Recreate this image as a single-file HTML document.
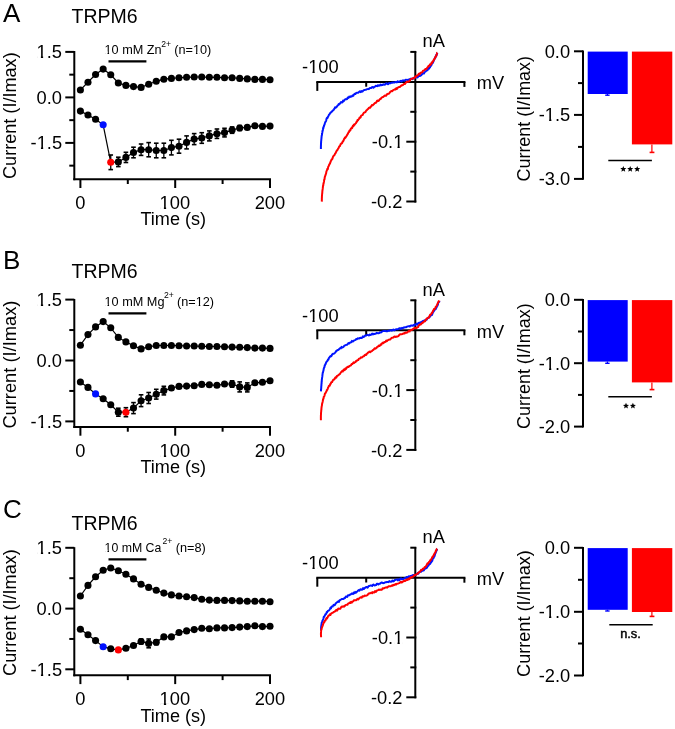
<!DOCTYPE html><html><head><meta charset="utf-8"><style>html,body{margin:0;padding:0;background:#fff;width:675px;height:729px;overflow:hidden}</style></head><body><svg width="675" height="729" viewBox="0 0 675 729" style="position:absolute;left:0;top:0;will-change:transform;font-family:'Liberation Sans', sans-serif">
<rect width="675" height="729" fill="#fff"/>
<text x="3.1" y="21.8" font-size="26" fill="#000">A</text>
<text x="71.51" y="23.4" font-size="19.5" fill="#000">TRPM6</text>
<line x1="74.3" y1="51" x2="74.3" y2="180.2" stroke="#000" stroke-width="2"/>
<line x1="73.3" y1="179.2" x2="271" y2="179.2" stroke="#000" stroke-width="2"/>
<line x1="65.3" y1="51.9" x2="74.3" y2="51.9" stroke="#000" stroke-width="2"/>
<line x1="69.3" y1="74.65" x2="74.3" y2="74.65" stroke="#000" stroke-width="2"/>
<line x1="65.3" y1="97.4" x2="74.3" y2="97.4" stroke="#000" stroke-width="2"/>
<line x1="69.3" y1="120.15" x2="74.3" y2="120.15" stroke="#000" stroke-width="2"/>
<line x1="65.3" y1="142.9" x2="74.3" y2="142.9" stroke="#000" stroke-width="2"/>
<line x1="69.3" y1="165.65" x2="74.3" y2="165.65" stroke="#000" stroke-width="2"/>
<text x="36.59" y="58.12" font-size="18.3" fill="#000">1.5</text>
<rect x="37.49" y="55.82" width="3.4" height="3.1" fill="#fff"/>
<rect x="43.12" y="55.82" width="3.22" height="3.1" fill="#fff"/>
<text x="36.5" y="103.71" font-size="18.3" fill="#000">0.0</text>
<text x="30.56" y="149.12" font-size="18.3" fill="#000">-1.5</text>
<rect x="37.54" y="146.82" width="3.4" height="3.1" fill="#fff"/>
<rect x="43.17" y="146.82" width="3.22" height="3.1" fill="#fff"/>
<line x1="80.4" y1="179.2" x2="80.4" y2="188" stroke="#000" stroke-width="2"/>
<line x1="127.8" y1="179.2" x2="127.8" y2="184" stroke="#000" stroke-width="2"/>
<line x1="175.2" y1="179.2" x2="175.2" y2="188" stroke="#000" stroke-width="2"/>
<line x1="222.6" y1="179.2" x2="222.6" y2="184" stroke="#000" stroke-width="2"/>
<line x1="270" y1="179.2" x2="270" y2="188" stroke="#000" stroke-width="2"/>
<text x="75.28" y="209.3" font-size="18.3" fill="#000">0</text>
<text x="159.6" y="209.3" font-size="18.3" fill="#000">100</text>
<rect x="160.49" y="207" width="3.4" height="3.1" fill="#fff"/>
<rect x="166.12" y="207" width="3.22" height="3.1" fill="#fff"/>
<text x="254.63" y="209.3" font-size="18.3" fill="#000">200</text>
<text transform="translate(140.44,225.2) scale(0.99,1)" font-size="18.3" fill="#000">Time (s)</text>
<text transform="translate(16.37,179) rotate(-90) scale(0.99,1)" font-size="18.3">Current (I/Imax)</text>
<line x1="108.5" y1="61.4" x2="146.4" y2="61.4" stroke="#000" stroke-width="2.3"/>
<text x="104.55" y="53.7" font-size="12.7" fill="#000">10 mM Zn</text>
<rect x="105.17" y="51.4" width="2.36" height="3.1" fill="#fff"/>
<rect x="109.07" y="51.4" width="2.23" height="3.1" fill="#fff"/>
<text x="161.27" y="47.3" font-size="8.6" fill="#000">2+</text>
<text x="174.24" y="54.1" font-size="12.7" fill="#000">(n=10)</text>
<rect x="193.57" y="51.8" width="2.36" height="3.1" fill="#fff"/>
<rect x="197.47" y="51.8" width="2.23" height="3.1" fill="#fff"/>
<polyline points="80.4,90 87.98,82.2 95.57,74.5 103.16,69.1 110.74,74.8 118.33,83 125.91,85.4 133.5,86.6 141.08,87.4 148.67,84.3 156.25,81.3 163.84,79.2 171.42,78.4 179,77.75 186.59,77.3 194.18,77 201.76,77 209.34,77.3 216.93,77.3 224.52,77.75 232.1,77.75 239.69,78.4 247.27,78.9 254.86,79.4 262.44,79.4 270.02,79.7" fill="none" stroke="#000" stroke-width="1.2"/>
<polyline points="80.4,111.1 87.98,115 95.57,119.2 103.16,124.8 110.74,162.3 118.33,161.9 125.91,157.4 133.5,152.5 141.08,149.7 148.67,149.7 156.25,150.5 163.84,150.5 171.42,147.6 179,146.2 186.59,142.4 194.18,139.1 201.76,138 209.34,135.9 216.93,133.7 224.52,132.6 232.1,130.1 239.69,128 247.27,127.4 254.86,125.7 262.44,126.4 270.02,126.1" fill="none" stroke="#000" stroke-width="1.2"/>
<line x1="110.74" y1="155" x2="110.74" y2="169.6" stroke="#000" stroke-width="1.3"/>
<line x1="108.44" y1="155" x2="113.04" y2="155" stroke="#000" stroke-width="1.6"/>
<line x1="108.44" y1="169.6" x2="113.04" y2="169.6" stroke="#000" stroke-width="1.6"/>
<line x1="118.33" y1="157.2" x2="118.33" y2="166.6" stroke="#000" stroke-width="1.3"/>
<line x1="116.03" y1="157.2" x2="120.62" y2="157.2" stroke="#000" stroke-width="1.6"/>
<line x1="116.03" y1="166.6" x2="120.62" y2="166.6" stroke="#000" stroke-width="1.6"/>
<line x1="125.91" y1="152.3" x2="125.91" y2="162.5" stroke="#000" stroke-width="1.3"/>
<line x1="123.61" y1="152.3" x2="128.21" y2="152.3" stroke="#000" stroke-width="1.6"/>
<line x1="123.61" y1="162.5" x2="128.21" y2="162.5" stroke="#000" stroke-width="1.6"/>
<line x1="133.5" y1="147.2" x2="133.5" y2="157.8" stroke="#000" stroke-width="1.3"/>
<line x1="131.19" y1="147.2" x2="135.8" y2="147.2" stroke="#000" stroke-width="1.6"/>
<line x1="131.19" y1="157.8" x2="135.8" y2="157.8" stroke="#000" stroke-width="1.6"/>
<line x1="141.08" y1="144" x2="141.08" y2="155.4" stroke="#000" stroke-width="1.3"/>
<line x1="138.78" y1="144" x2="143.38" y2="144" stroke="#000" stroke-width="1.6"/>
<line x1="138.78" y1="155.4" x2="143.38" y2="155.4" stroke="#000" stroke-width="1.6"/>
<line x1="148.67" y1="142.6" x2="148.67" y2="156.8" stroke="#000" stroke-width="1.3"/>
<line x1="146.37" y1="142.6" x2="150.97" y2="142.6" stroke="#000" stroke-width="1.6"/>
<line x1="146.37" y1="156.8" x2="150.97" y2="156.8" stroke="#000" stroke-width="1.6"/>
<line x1="156.25" y1="143.2" x2="156.25" y2="157.8" stroke="#000" stroke-width="1.3"/>
<line x1="153.95" y1="143.2" x2="158.55" y2="143.2" stroke="#000" stroke-width="1.6"/>
<line x1="153.95" y1="157.8" x2="158.55" y2="157.8" stroke="#000" stroke-width="1.6"/>
<line x1="163.84" y1="143.2" x2="163.84" y2="157.8" stroke="#000" stroke-width="1.3"/>
<line x1="161.53" y1="143.2" x2="166.14" y2="143.2" stroke="#000" stroke-width="1.6"/>
<line x1="161.53" y1="157.8" x2="166.14" y2="157.8" stroke="#000" stroke-width="1.6"/>
<line x1="171.42" y1="140.3" x2="171.42" y2="154.9" stroke="#000" stroke-width="1.3"/>
<line x1="169.12" y1="140.3" x2="173.72" y2="140.3" stroke="#000" stroke-width="1.6"/>
<line x1="169.12" y1="154.9" x2="173.72" y2="154.9" stroke="#000" stroke-width="1.6"/>
<line x1="179" y1="139.2" x2="179" y2="153.2" stroke="#000" stroke-width="1.3"/>
<line x1="176.7" y1="139.2" x2="181.31" y2="139.2" stroke="#000" stroke-width="1.6"/>
<line x1="176.7" y1="153.2" x2="181.31" y2="153.2" stroke="#000" stroke-width="1.6"/>
<line x1="186.59" y1="135.9" x2="186.59" y2="148.9" stroke="#000" stroke-width="1.3"/>
<line x1="184.29" y1="135.9" x2="188.89" y2="135.9" stroke="#000" stroke-width="1.6"/>
<line x1="184.29" y1="148.9" x2="188.89" y2="148.9" stroke="#000" stroke-width="1.6"/>
<line x1="194.18" y1="133.6" x2="194.18" y2="144.6" stroke="#000" stroke-width="1.3"/>
<line x1="191.88" y1="133.6" x2="196.48" y2="133.6" stroke="#000" stroke-width="1.6"/>
<line x1="191.88" y1="144.6" x2="196.48" y2="144.6" stroke="#000" stroke-width="1.6"/>
<line x1="201.76" y1="132.7" x2="201.76" y2="143.3" stroke="#000" stroke-width="1.3"/>
<line x1="199.46" y1="132.7" x2="204.06" y2="132.7" stroke="#000" stroke-width="1.6"/>
<line x1="199.46" y1="143.3" x2="204.06" y2="143.3" stroke="#000" stroke-width="1.6"/>
<line x1="209.34" y1="130.9" x2="209.34" y2="140.9" stroke="#000" stroke-width="1.3"/>
<line x1="207.04" y1="130.9" x2="211.65" y2="130.9" stroke="#000" stroke-width="1.6"/>
<line x1="207.04" y1="140.9" x2="211.65" y2="140.9" stroke="#000" stroke-width="1.6"/>
<line x1="216.93" y1="129" x2="216.93" y2="138.4" stroke="#000" stroke-width="1.3"/>
<line x1="214.63" y1="129" x2="219.23" y2="129" stroke="#000" stroke-width="1.6"/>
<line x1="214.63" y1="138.4" x2="219.23" y2="138.4" stroke="#000" stroke-width="1.6"/>
<line x1="224.52" y1="128.3" x2="224.52" y2="136.9" stroke="#000" stroke-width="1.3"/>
<line x1="222.22" y1="128.3" x2="226.82" y2="128.3" stroke="#000" stroke-width="1.6"/>
<line x1="222.22" y1="136.9" x2="226.82" y2="136.9" stroke="#000" stroke-width="1.6"/>
<line x1="232.1" y1="126.9" x2="232.1" y2="133.3" stroke="#000" stroke-width="1.3"/>
<line x1="229.8" y1="126.9" x2="234.4" y2="126.9" stroke="#000" stroke-width="1.6"/>
<line x1="229.8" y1="133.3" x2="234.4" y2="133.3" stroke="#000" stroke-width="1.6"/>
<line x1="239.69" y1="125.5" x2="239.69" y2="130.5" stroke="#000" stroke-width="1.3"/>
<line x1="237.38" y1="125.5" x2="241.99" y2="125.5" stroke="#000" stroke-width="1.6"/>
<line x1="237.38" y1="130.5" x2="241.99" y2="130.5" stroke="#000" stroke-width="1.6"/>
<circle cx="80.4" cy="90" r="3.55"/>
<circle cx="87.98" cy="82.2" r="3.55"/>
<circle cx="95.57" cy="74.5" r="3.55"/>
<circle cx="103.16" cy="69.1" r="3.55"/>
<circle cx="110.74" cy="74.8" r="3.55"/>
<circle cx="118.33" cy="83" r="3.55"/>
<circle cx="125.91" cy="85.4" r="3.55"/>
<circle cx="133.5" cy="86.6" r="3.55"/>
<circle cx="141.08" cy="87.4" r="3.55"/>
<circle cx="148.67" cy="84.3" r="3.55"/>
<circle cx="156.25" cy="81.3" r="3.55"/>
<circle cx="163.84" cy="79.2" r="3.55"/>
<circle cx="171.42" cy="78.4" r="3.55"/>
<circle cx="179" cy="77.75" r="3.55"/>
<circle cx="186.59" cy="77.3" r="3.55"/>
<circle cx="194.18" cy="77" r="3.55"/>
<circle cx="201.76" cy="77" r="3.55"/>
<circle cx="209.34" cy="77.3" r="3.55"/>
<circle cx="216.93" cy="77.3" r="3.55"/>
<circle cx="224.52" cy="77.75" r="3.55"/>
<circle cx="232.1" cy="77.75" r="3.55"/>
<circle cx="239.69" cy="78.4" r="3.55"/>
<circle cx="247.27" cy="78.9" r="3.55"/>
<circle cx="254.86" cy="79.4" r="3.55"/>
<circle cx="262.44" cy="79.4" r="3.55"/>
<circle cx="270.02" cy="79.7" r="3.55"/>
<circle cx="80.4" cy="111.1" r="3.55" fill="#000"/>
<circle cx="87.98" cy="115" r="3.55" fill="#000"/>
<circle cx="95.57" cy="119.2" r="3.55" fill="#000"/>
<circle cx="103.16" cy="124.8" r="3.55" fill="#0010ff"/>
<circle cx="110.74" cy="162.3" r="3.55" fill="#ff0000"/>
<circle cx="118.33" cy="161.9" r="3.55" fill="#000"/>
<circle cx="125.91" cy="157.4" r="3.55" fill="#000"/>
<circle cx="133.5" cy="152.5" r="3.55" fill="#000"/>
<circle cx="141.08" cy="149.7" r="3.55" fill="#000"/>
<circle cx="148.67" cy="149.7" r="3.55" fill="#000"/>
<circle cx="156.25" cy="150.5" r="3.55" fill="#000"/>
<circle cx="163.84" cy="150.5" r="3.55" fill="#000"/>
<circle cx="171.42" cy="147.6" r="3.55" fill="#000"/>
<circle cx="179" cy="146.2" r="3.55" fill="#000"/>
<circle cx="186.59" cy="142.4" r="3.55" fill="#000"/>
<circle cx="194.18" cy="139.1" r="3.55" fill="#000"/>
<circle cx="201.76" cy="138" r="3.55" fill="#000"/>
<circle cx="209.34" cy="135.9" r="3.55" fill="#000"/>
<circle cx="216.93" cy="133.7" r="3.55" fill="#000"/>
<circle cx="224.52" cy="132.6" r="3.55" fill="#000"/>
<circle cx="232.1" cy="130.1" r="3.55" fill="#000"/>
<circle cx="239.69" cy="128" r="3.55" fill="#000"/>
<circle cx="247.27" cy="127.4" r="3.55" fill="#000"/>
<circle cx="254.86" cy="125.7" r="3.55" fill="#000"/>
<circle cx="262.44" cy="126.4" r="3.55" fill="#000"/>
<circle cx="270.02" cy="126.1" r="3.55" fill="#000"/>
<text x="3.12" y="269.3" font-size="26" fill="#000">B</text>
<text x="71.61" y="277.9" font-size="19.5" fill="#000">TRPM6</text>
<line x1="74.3" y1="299" x2="74.3" y2="427.9" stroke="#000" stroke-width="2"/>
<line x1="73.3" y1="426.9" x2="271" y2="426.9" stroke="#000" stroke-width="2"/>
<line x1="65.3" y1="299.6" x2="74.3" y2="299.6" stroke="#000" stroke-width="2"/>
<line x1="69.3" y1="330.05" x2="74.3" y2="330.05" stroke="#000" stroke-width="2"/>
<line x1="65.3" y1="360.5" x2="74.3" y2="360.5" stroke="#000" stroke-width="2"/>
<line x1="69.3" y1="390.95" x2="74.3" y2="390.95" stroke="#000" stroke-width="2"/>
<line x1="65.3" y1="421.4" x2="74.3" y2="421.4" stroke="#000" stroke-width="2"/>
<text x="36.59" y="305.82" font-size="18.3" fill="#000">1.5</text>
<rect x="37.49" y="303.52" width="3.4" height="3.1" fill="#fff"/>
<rect x="43.12" y="303.52" width="3.22" height="3.1" fill="#fff"/>
<text x="36.5" y="366.81" font-size="18.3" fill="#000">0.0</text>
<text x="30.56" y="427.62" font-size="18.3" fill="#000">-1.5</text>
<rect x="37.54" y="425.32" width="3.4" height="3.1" fill="#fff"/>
<rect x="43.17" y="425.32" width="3.22" height="3.1" fill="#fff"/>
<line x1="80.4" y1="426.9" x2="80.4" y2="435.7" stroke="#000" stroke-width="2"/>
<line x1="127.8" y1="426.9" x2="127.8" y2="431.7" stroke="#000" stroke-width="2"/>
<line x1="175.2" y1="426.9" x2="175.2" y2="435.7" stroke="#000" stroke-width="2"/>
<line x1="222.6" y1="426.9" x2="222.6" y2="431.7" stroke="#000" stroke-width="2"/>
<line x1="270" y1="426.9" x2="270" y2="435.7" stroke="#000" stroke-width="2"/>
<text x="75.28" y="457" font-size="18.3" fill="#000">0</text>
<text x="159.6" y="457" font-size="18.3" fill="#000">100</text>
<rect x="160.49" y="454.7" width="3.4" height="3.1" fill="#fff"/>
<rect x="166.12" y="454.7" width="3.22" height="3.1" fill="#fff"/>
<text x="254.63" y="457" font-size="18.3" fill="#000">200</text>
<text transform="translate(140.44,473.3) scale(0.99,1)" font-size="18.3" fill="#000">Time (s)</text>
<text transform="translate(15.87,428.61) rotate(-90) scale(1,1)" font-size="18.3">Current (I/Imax)</text>
<line x1="108.5" y1="313.4" x2="146.4" y2="313.4" stroke="#000" stroke-width="2.3"/>
<text x="104.55" y="306.1" font-size="12.7" fill="#000">10 mM Mg</text>
<rect x="105.17" y="303.8" width="2.36" height="3.1" fill="#fff"/>
<rect x="109.07" y="303.8" width="2.23" height="3.1" fill="#fff"/>
<text x="164.07" y="297.6" font-size="8.6" fill="#000">2+</text>
<text x="177.04" y="306" font-size="12.7" fill="#000">(n=12)</text>
<rect x="196.37" y="303.7" width="2.36" height="3.1" fill="#fff"/>
<rect x="200.27" y="303.7" width="2.23" height="3.1" fill="#fff"/>
<polyline points="80.4,345.2 87.98,334.6 95.57,326.9 103.16,321.6 110.74,327.8 118.33,337.4 125.91,341.9 133.5,345.7 141.08,348.9 148.67,346.8 156.25,345.5 163.84,345.5 171.42,345.5 179,345.7 186.59,346 194.18,346 201.76,346.3 209.34,346.5 216.93,346.5 224.52,346.8 232.1,347.1 239.69,347.3 247.27,347.6 254.86,348.1 262.44,348.1 270.02,348.4" fill="none" stroke="#000" stroke-width="1.2"/>
<polyline points="80.4,382 87.98,387.4 95.57,393.9 103.16,398.8 110.74,404.8 118.33,412.2 125.91,412.2 133.5,408.1 141.08,400.7 148.67,398 156.25,394.2 163.84,390.6 171.42,388 179,386.4 186.59,386.1 194.18,385.7 201.76,384.4 209.34,384.8 216.93,385.3 224.52,384 232.1,384 239.69,386.9 247.27,387.4 254.86,382.8 262.44,382.3 270.02,380.7" fill="none" stroke="#000" stroke-width="1.2"/>
<line x1="118.33" y1="408.2" x2="118.33" y2="416.2" stroke="#000" stroke-width="1.3"/>
<line x1="116.03" y1="408.2" x2="120.62" y2="408.2" stroke="#000" stroke-width="1.6"/>
<line x1="116.03" y1="416.2" x2="120.62" y2="416.2" stroke="#000" stroke-width="1.6"/>
<line x1="125.91" y1="407.7" x2="125.91" y2="416.7" stroke="#000" stroke-width="1.3"/>
<line x1="123.61" y1="407.7" x2="128.21" y2="407.7" stroke="#000" stroke-width="1.6"/>
<line x1="123.61" y1="416.7" x2="128.21" y2="416.7" stroke="#000" stroke-width="1.6"/>
<line x1="133.5" y1="402.6" x2="133.5" y2="413.6" stroke="#000" stroke-width="1.3"/>
<line x1="131.19" y1="402.6" x2="135.8" y2="402.6" stroke="#000" stroke-width="1.6"/>
<line x1="131.19" y1="413.6" x2="135.8" y2="413.6" stroke="#000" stroke-width="1.6"/>
<line x1="141.08" y1="394.8" x2="141.08" y2="406.6" stroke="#000" stroke-width="1.3"/>
<line x1="138.78" y1="394.8" x2="143.38" y2="394.8" stroke="#000" stroke-width="1.6"/>
<line x1="138.78" y1="406.6" x2="143.38" y2="406.6" stroke="#000" stroke-width="1.6"/>
<line x1="148.67" y1="392.5" x2="148.67" y2="403.5" stroke="#000" stroke-width="1.3"/>
<line x1="146.37" y1="392.5" x2="150.97" y2="392.5" stroke="#000" stroke-width="1.6"/>
<line x1="146.37" y1="403.5" x2="150.97" y2="403.5" stroke="#000" stroke-width="1.6"/>
<line x1="156.25" y1="389.3" x2="156.25" y2="399.1" stroke="#000" stroke-width="1.3"/>
<line x1="153.95" y1="389.3" x2="158.55" y2="389.3" stroke="#000" stroke-width="1.6"/>
<line x1="153.95" y1="399.1" x2="158.55" y2="399.1" stroke="#000" stroke-width="1.6"/>
<line x1="163.84" y1="386.3" x2="163.84" y2="394.9" stroke="#000" stroke-width="1.3"/>
<line x1="161.53" y1="386.3" x2="166.14" y2="386.3" stroke="#000" stroke-width="1.6"/>
<line x1="161.53" y1="394.9" x2="166.14" y2="394.9" stroke="#000" stroke-width="1.6"/>
<line x1="171.42" y1="386" x2="171.42" y2="390" stroke="#000" stroke-width="1.3"/>
<line x1="169.12" y1="386" x2="173.72" y2="386" stroke="#000" stroke-width="1.6"/>
<line x1="169.12" y1="390" x2="173.72" y2="390" stroke="#000" stroke-width="1.6"/>
<line x1="232.1" y1="380.8" x2="232.1" y2="387.2" stroke="#000" stroke-width="1.3"/>
<line x1="229.8" y1="380.8" x2="234.4" y2="380.8" stroke="#000" stroke-width="1.6"/>
<line x1="229.8" y1="387.2" x2="234.4" y2="387.2" stroke="#000" stroke-width="1.6"/>
<line x1="239.69" y1="381.9" x2="239.69" y2="391.9" stroke="#000" stroke-width="1.3"/>
<line x1="237.38" y1="381.9" x2="241.99" y2="381.9" stroke="#000" stroke-width="1.6"/>
<line x1="237.38" y1="391.9" x2="241.99" y2="391.9" stroke="#000" stroke-width="1.6"/>
<line x1="247.27" y1="382.9" x2="247.27" y2="391.9" stroke="#000" stroke-width="1.3"/>
<line x1="244.97" y1="382.9" x2="249.57" y2="382.9" stroke="#000" stroke-width="1.6"/>
<line x1="244.97" y1="391.9" x2="249.57" y2="391.9" stroke="#000" stroke-width="1.6"/>
<circle cx="80.4" cy="345.2" r="3.55"/>
<circle cx="87.98" cy="334.6" r="3.55"/>
<circle cx="95.57" cy="326.9" r="3.55"/>
<circle cx="103.16" cy="321.6" r="3.55"/>
<circle cx="110.74" cy="327.8" r="3.55"/>
<circle cx="118.33" cy="337.4" r="3.55"/>
<circle cx="125.91" cy="341.9" r="3.55"/>
<circle cx="133.5" cy="345.7" r="3.55"/>
<circle cx="141.08" cy="348.9" r="3.55"/>
<circle cx="148.67" cy="346.8" r="3.55"/>
<circle cx="156.25" cy="345.5" r="3.55"/>
<circle cx="163.84" cy="345.5" r="3.55"/>
<circle cx="171.42" cy="345.5" r="3.55"/>
<circle cx="179" cy="345.7" r="3.55"/>
<circle cx="186.59" cy="346" r="3.55"/>
<circle cx="194.18" cy="346" r="3.55"/>
<circle cx="201.76" cy="346.3" r="3.55"/>
<circle cx="209.34" cy="346.5" r="3.55"/>
<circle cx="216.93" cy="346.5" r="3.55"/>
<circle cx="224.52" cy="346.8" r="3.55"/>
<circle cx="232.1" cy="347.1" r="3.55"/>
<circle cx="239.69" cy="347.3" r="3.55"/>
<circle cx="247.27" cy="347.6" r="3.55"/>
<circle cx="254.86" cy="348.1" r="3.55"/>
<circle cx="262.44" cy="348.1" r="3.55"/>
<circle cx="270.02" cy="348.4" r="3.55"/>
<circle cx="80.4" cy="382" r="3.55" fill="#000"/>
<circle cx="87.98" cy="387.4" r="3.55" fill="#000"/>
<circle cx="95.57" cy="393.9" r="3.55" fill="#0010ff"/>
<circle cx="103.16" cy="398.8" r="3.55" fill="#000"/>
<circle cx="110.74" cy="404.8" r="3.55" fill="#000"/>
<circle cx="118.33" cy="412.2" r="3.55" fill="#000"/>
<circle cx="125.91" cy="412.2" r="3.55" fill="#ff0000"/>
<circle cx="133.5" cy="408.1" r="3.55" fill="#000"/>
<circle cx="141.08" cy="400.7" r="3.55" fill="#000"/>
<circle cx="148.67" cy="398" r="3.55" fill="#000"/>
<circle cx="156.25" cy="394.2" r="3.55" fill="#000"/>
<circle cx="163.84" cy="390.6" r="3.55" fill="#000"/>
<circle cx="171.42" cy="388" r="3.55" fill="#000"/>
<circle cx="179" cy="386.4" r="3.55" fill="#000"/>
<circle cx="186.59" cy="386.1" r="3.55" fill="#000"/>
<circle cx="194.18" cy="385.7" r="3.55" fill="#000"/>
<circle cx="201.76" cy="384.4" r="3.55" fill="#000"/>
<circle cx="209.34" cy="384.8" r="3.55" fill="#000"/>
<circle cx="216.93" cy="385.3" r="3.55" fill="#000"/>
<circle cx="224.52" cy="384" r="3.55" fill="#000"/>
<circle cx="232.1" cy="384" r="3.55" fill="#000"/>
<circle cx="239.69" cy="386.9" r="3.55" fill="#000"/>
<circle cx="247.27" cy="387.4" r="3.55" fill="#000"/>
<circle cx="254.86" cy="382.8" r="3.55" fill="#000"/>
<circle cx="262.44" cy="382.3" r="3.55" fill="#000"/>
<circle cx="270.02" cy="380.7" r="3.55" fill="#000"/>
<text x="3.1" y="518.2" font-size="26" fill="#000">C</text>
<text x="71.61" y="530.4" font-size="19.5" fill="#000">TRPM6</text>
<line x1="74.3" y1="547.2" x2="74.3" y2="676.3" stroke="#000" stroke-width="2"/>
<line x1="73.3" y1="675.3" x2="271" y2="675.3" stroke="#000" stroke-width="2"/>
<line x1="65.3" y1="547.8" x2="74.3" y2="547.8" stroke="#000" stroke-width="2"/>
<line x1="69.3" y1="578.2" x2="74.3" y2="578.2" stroke="#000" stroke-width="2"/>
<line x1="65.3" y1="608.6" x2="74.3" y2="608.6" stroke="#000" stroke-width="2"/>
<line x1="69.3" y1="638.95" x2="74.3" y2="638.95" stroke="#000" stroke-width="2"/>
<line x1="65.3" y1="669.3" x2="74.3" y2="669.3" stroke="#000" stroke-width="2"/>
<text x="36.59" y="554.02" font-size="18.3" fill="#000">1.5</text>
<rect x="37.49" y="551.72" width="3.4" height="3.1" fill="#fff"/>
<rect x="43.12" y="551.72" width="3.22" height="3.1" fill="#fff"/>
<text x="36.5" y="614.91" font-size="18.3" fill="#000">0.0</text>
<text x="30.56" y="675.52" font-size="18.3" fill="#000">-1.5</text>
<rect x="37.54" y="673.22" width="3.4" height="3.1" fill="#fff"/>
<rect x="43.17" y="673.22" width="3.22" height="3.1" fill="#fff"/>
<line x1="80.4" y1="675.3" x2="80.4" y2="684.1" stroke="#000" stroke-width="2"/>
<line x1="127.8" y1="675.3" x2="127.8" y2="680.1" stroke="#000" stroke-width="2"/>
<line x1="175.2" y1="675.3" x2="175.2" y2="684.1" stroke="#000" stroke-width="2"/>
<line x1="222.6" y1="675.3" x2="222.6" y2="680.1" stroke="#000" stroke-width="2"/>
<line x1="270" y1="675.3" x2="270" y2="684.1" stroke="#000" stroke-width="2"/>
<text x="75.28" y="705.4" font-size="18.3" fill="#000">0</text>
<text x="159.6" y="705.4" font-size="18.3" fill="#000">100</text>
<rect x="160.49" y="703.1" width="3.4" height="3.1" fill="#fff"/>
<rect x="166.12" y="703.1" width="3.22" height="3.1" fill="#fff"/>
<text x="254.63" y="705.4" font-size="18.3" fill="#000">200</text>
<text transform="translate(140.44,721.6) scale(0.99,1)" font-size="18.3" fill="#000">Time (s)</text>
<text transform="translate(15.87,675.91) rotate(-90) scale(0.99,1)" font-size="18.3">Current (I/Imax)</text>
<line x1="108.5" y1="559.3" x2="146.4" y2="559.3" stroke="#000" stroke-width="2.3"/>
<text transform="translate(104.57,552) scale(0.97,1)" font-size="12.7" fill="#000">10 mM Ca</text>
<rect x="105.18" y="549.7" width="2.3" height="3.1" fill="#fff"/>
<rect x="108.98" y="549.7" width="2.17" height="3.1" fill="#fff"/>
<text x="162.47" y="543.9" font-size="8.6" fill="#000">2+</text>
<text x="175.74" y="552.3" font-size="12.7" fill="#000">(n=8)</text>
<polyline points="80.4,596 87.98,585.4 95.57,576.8 103.16,570.3 110.74,568 118.33,570.7 125.91,574.3 133.5,578.9 141.08,584.3 148.67,587.4 156.25,590.3 163.84,593.1 171.42,594.9 179,596 186.59,596.8 194.18,597.6 201.76,599.3 209.34,600.1 216.93,600.4 224.52,600.4 232.1,600.6 239.69,600.9 247.27,601.2 254.86,601.2 262.44,601.2 270.02,601.7" fill="none" stroke="#000" stroke-width="1.2"/>
<polyline points="80.4,629.2 87.98,634.8 95.57,640.6 103.16,646.7 110.74,648.8 118.33,649.9 125.91,648.3 133.5,645.5 141.08,641.5 148.67,643.4 156.25,642.3 163.84,636.9 171.42,636.9 179,632.5 186.59,630.9 194.18,629.6 201.76,628.3 209.34,628.7 216.93,627.9 224.52,627.9 232.1,627.6 239.69,627.1 247.27,626.6 254.86,625.8 262.44,626.6 270.02,626.3" fill="none" stroke="#000" stroke-width="1.2"/>
<line x1="141.08" y1="639" x2="141.08" y2="644" stroke="#000" stroke-width="1.3"/>
<line x1="138.78" y1="639" x2="143.38" y2="639" stroke="#000" stroke-width="1.6"/>
<line x1="138.78" y1="644" x2="143.38" y2="644" stroke="#000" stroke-width="1.6"/>
<line x1="148.67" y1="639" x2="148.67" y2="647.8" stroke="#000" stroke-width="1.3"/>
<line x1="146.37" y1="639" x2="150.97" y2="639" stroke="#000" stroke-width="1.6"/>
<line x1="146.37" y1="647.8" x2="150.97" y2="647.8" stroke="#000" stroke-width="1.6"/>
<line x1="156.25" y1="639.8" x2="156.25" y2="644.8" stroke="#000" stroke-width="1.3"/>
<line x1="153.95" y1="639.8" x2="158.55" y2="639.8" stroke="#000" stroke-width="1.6"/>
<line x1="153.95" y1="644.8" x2="158.55" y2="644.8" stroke="#000" stroke-width="1.6"/>
<circle cx="80.4" cy="596" r="3.55"/>
<circle cx="87.98" cy="585.4" r="3.55"/>
<circle cx="95.57" cy="576.8" r="3.55"/>
<circle cx="103.16" cy="570.3" r="3.55"/>
<circle cx="110.74" cy="568" r="3.55"/>
<circle cx="118.33" cy="570.7" r="3.55"/>
<circle cx="125.91" cy="574.3" r="3.55"/>
<circle cx="133.5" cy="578.9" r="3.55"/>
<circle cx="141.08" cy="584.3" r="3.55"/>
<circle cx="148.67" cy="587.4" r="3.55"/>
<circle cx="156.25" cy="590.3" r="3.55"/>
<circle cx="163.84" cy="593.1" r="3.55"/>
<circle cx="171.42" cy="594.9" r="3.55"/>
<circle cx="179" cy="596" r="3.55"/>
<circle cx="186.59" cy="596.8" r="3.55"/>
<circle cx="194.18" cy="597.6" r="3.55"/>
<circle cx="201.76" cy="599.3" r="3.55"/>
<circle cx="209.34" cy="600.1" r="3.55"/>
<circle cx="216.93" cy="600.4" r="3.55"/>
<circle cx="224.52" cy="600.4" r="3.55"/>
<circle cx="232.1" cy="600.6" r="3.55"/>
<circle cx="239.69" cy="600.9" r="3.55"/>
<circle cx="247.27" cy="601.2" r="3.55"/>
<circle cx="254.86" cy="601.2" r="3.55"/>
<circle cx="262.44" cy="601.2" r="3.55"/>
<circle cx="270.02" cy="601.7" r="3.55"/>
<circle cx="80.4" cy="629.2" r="3.55" fill="#000"/>
<circle cx="87.98" cy="634.8" r="3.55" fill="#000"/>
<circle cx="95.57" cy="640.6" r="3.55" fill="#000"/>
<circle cx="103.16" cy="646.7" r="3.55" fill="#0010ff"/>
<circle cx="110.74" cy="648.8" r="3.55" fill="#000"/>
<circle cx="118.33" cy="649.9" r="3.55" fill="#ff0000"/>
<circle cx="125.91" cy="648.3" r="3.55" fill="#000"/>
<circle cx="133.5" cy="645.5" r="3.55" fill="#000"/>
<circle cx="141.08" cy="641.5" r="3.55" fill="#000"/>
<circle cx="148.67" cy="643.4" r="3.55" fill="#000"/>
<circle cx="156.25" cy="642.3" r="3.55" fill="#000"/>
<circle cx="163.84" cy="636.9" r="3.55" fill="#000"/>
<circle cx="171.42" cy="636.9" r="3.55" fill="#000"/>
<circle cx="179" cy="632.5" r="3.55" fill="#000"/>
<circle cx="186.59" cy="630.9" r="3.55" fill="#000"/>
<circle cx="194.18" cy="629.6" r="3.55" fill="#000"/>
<circle cx="201.76" cy="628.3" r="3.55" fill="#000"/>
<circle cx="209.34" cy="628.7" r="3.55" fill="#000"/>
<circle cx="216.93" cy="627.9" r="3.55" fill="#000"/>
<circle cx="224.52" cy="627.9" r="3.55" fill="#000"/>
<circle cx="232.1" cy="627.6" r="3.55" fill="#000"/>
<circle cx="239.69" cy="627.1" r="3.55" fill="#000"/>
<circle cx="247.27" cy="626.6" r="3.55" fill="#000"/>
<circle cx="254.86" cy="625.8" r="3.55" fill="#000"/>
<circle cx="262.44" cy="626.6" r="3.55" fill="#000"/>
<circle cx="270.02" cy="626.3" r="3.55" fill="#000"/>
<line x1="316.3" y1="81.9" x2="465.4" y2="81.9" stroke="#000" stroke-width="2"/>
<line x1="415.3" y1="51.4" x2="415.3" y2="202.5" stroke="#000" stroke-width="2"/>
<line x1="317.3" y1="81.9" x2="317.3" y2="90.9" stroke="#000" stroke-width="2"/>
<line x1="366.2" y1="81.9" x2="366.2" y2="86.7" stroke="#000" stroke-width="2"/>
<line x1="464.4" y1="81.9" x2="464.4" y2="86.9" stroke="#000" stroke-width="2"/>
<line x1="410.3" y1="51.9" x2="416.3" y2="51.9" stroke="#000" stroke-width="2"/>
<line x1="410.3" y1="111.8" x2="416.3" y2="111.8" stroke="#000" stroke-width="2"/>
<line x1="406.3" y1="141.7" x2="416.3" y2="141.7" stroke="#000" stroke-width="2"/>
<line x1="410.3" y1="171.6" x2="416.3" y2="171.6" stroke="#000" stroke-width="2"/>
<line x1="406.3" y1="201.5" x2="416.3" y2="201.5" stroke="#000" stroke-width="2"/>
<polyline points="320.9,148.9 320.9,147.73 320.91,147.36 320.92,146.32 320.94,145.85 320.97,145.08 321,143.49 321.03,142.62 321.08,142.98 321.13,141.37 321.19,140.54 321.25,140.8 321.32,139.27 321.4,138.99 321.49,137.69 321.59,137.12 321.69,135.65 321.8,135.53 321.92,135.07 322.05,133.79 322.19,133.31 322.34,132.43 322.49,130.79 322.66,130.98 322.84,129.97 323.02,128.78 323.22,127.63 323.43,128.03 323.65,126.71 323.88,126.29 324.12,125.75 324.38,124.76 324.65,124.3 324.93,122.81 325.22,122.63 325.53,121.4 325.85,121.35 326.18,120.54 326.53,118.73 326.89,118.07 327.27,117.48 327.66,117.83 328.06,116.4 328.48,115.98 328.92,114.85 329.36,114.48 329.82,113.66 330.3,112.96 330.78,112.65 331.28,112.03 331.79,111.86 332.31,110.94 332.84,110.68 333.38,109.99 333.93,109.6 334.49,108.58 335.05,107.3 335.63,107.72 336.21,107.32 336.8,106.7 337.4,105.7 338.01,105.38 338.62,104.16 339.24,104.52 339.86,103.66 340.49,102.76 341.13,101.97 341.77,102.6 342.42,102.32 343.07,100.59 343.73,101.13 344.39,100.14 345.06,99.33 345.73,99.09 346.4,99.33 347.08,99.05 347.76,97.47 348.44,97.85 349.13,96.65 349.83,97.19 350.52,96.26 351.22,96.64 351.92,96.4 352.63,95.35 353.34,95.67 354.05,94.35 354.77,93.66 355.49,94.04 356.21,92.9 356.93,92.79 357.66,92.75 358.39,92.71 359.12,91.75 359.85,91.27 360.59,92.11 361.33,91.03 362.07,91.63 362.81,91.25 363.56,90.23 364.31,90.06 365.05,89.87 365.81,89.77 366.56,89.43 367.31,89.11 368.07,88.94 368.83,89.13 369.59,88.28 370.35,87.93 371.12,88.09 371.88,87.18 372.65,87.04 373.41,87.76 374.18,86.9 374.95,86.73 375.73,85.76 376.5,86.12 377.27,86.15 378.05,85.17 378.82,85.81 379.6,85.64 380.38,84.65 381.16,85.27 381.94,84.86 382.72,84.99 383.5,84.36 384.28,84.69 385.07,84.57 385.85,83.41 386.63,83.3 387.42,84.01 388.2,84.25 388.99,83.1 389.77,83.24 390.56,83.28 391.35,82.75 392.13,82.67 392.92,82.45 393.71,82.38 394.49,82.56 395.28,82 396.07,81.96 396.85,82.37 397.64,81.18 398.43,81.79 399.21,81.88 400,81.13 400.78,80.86 401.57,81.52 402.35,80.58 403.14,80.35 403.92,80.54 404.71,80.75 405.49,79.75 406.27,79.89 407.06,79.74 407.84,80.27 408.62,79.53 409.39,79.93 410.17,78.78 410.94,78.81 411.72,79.04 412.48,79.15 413.25,78.31 414.01,77.75 414.77,77.35 415.52,77.65 416.27,76.89 417.01,77.46 417.75,77.19 418.48,75.94 419.2,75.72 419.91,76.09 420.61,75.47 421.29,75.29 421.97,74.22 422.63,73.46 423.28,73.22 423.91,73.44 424.53,72.2 425.14,71.78 425.73,71.35 426.31,70.8 426.87,70.22 427.43,70.35 427.96,68.69 428.49,67.87 429,68.57 429.5,67.86 429.98,67.37 430.45,65.95 430.91,66.02 431.36,65.33 431.8,63.67 432.22,63.72 432.64,63.16 433.04,62.23 433.43,61.33 433.81,60.3 434.18,59.67 434.54,58.79 434.89,57.85 435.23,57.86 435.56,56.71 435.88,56.71 436.19,54.9 436.5,55.36 436.79,54.32 437.07,53.9 437.3,52.7" fill="none" stroke="#0014ff" stroke-width="2" stroke-linejoin="round"/>
<polyline points="321.8,201.6 321.81,201.36 321.82,200.56 321.85,199.31 321.87,197.72 321.9,197.95 321.94,196.34 321.99,195.72 322.04,195.43 322.09,194.44 322.16,193.49 322.23,193.43 322.3,192.17 322.38,191 322.47,190.08 322.56,190.14 322.66,188.81 322.77,188.44 322.88,187.05 323,186.04 323.13,185.72 323.26,185.33 323.4,183.64 323.55,183.72 323.7,183.11 323.86,182.17 324.02,181.41 324.2,179.49 324.38,179.58 324.56,179.13 324.76,177.21 324.96,176.75 325.17,175.97 325.38,175.56 325.61,174.65 325.84,173.95 326.07,173.61 326.32,171.77 326.57,171.08 326.83,170.43 327.1,169.67 327.37,168.84 327.66,169.36 327.95,168.45 328.25,166.63 328.55,166.47 328.87,165.48 329.19,164.74 329.51,164.06 329.85,163.75 330.19,162.94 330.53,161.9 330.89,160.95 331.25,160.43 331.61,159.43 331.98,159.32 332.35,158.84 332.73,157.66 333.12,156.54 333.5,155.98 333.9,155.56 334.29,155.18 334.69,154.74 335.09,153.49 335.5,153.39 335.91,152.45 336.32,151.5 336.74,150.73 337.15,150.22 337.57,149.83 338,148.75 338.42,148.46 338.84,147.45 339.27,146.47 339.7,146.21 340.13,145.75 340.56,144.21 340.99,144.03 341.42,143.35 341.85,143.31 342.28,142.72 342.72,141.26 343.15,141.32 343.59,140.5 344.02,139.09 344.46,138.71 344.9,137.56 345.34,137.86 345.78,136.98 346.23,136.63 346.67,135.83 347.12,134.99 347.57,134.42 348.02,133.52 348.47,132.22 348.92,132.24 349.38,130.76 349.84,130.3 350.3,130.53 350.76,128.86 351.22,128.27 351.69,127.63 352.16,128.08 352.63,126.45 353.11,125.59 353.59,126.09 354.07,124.44 354.55,124.82 355.04,123.94 355.52,123.54 356.02,123.07 356.51,121.92 357.01,121.6 357.51,119.91 358.02,120.31 358.52,119.34 359.04,119.01 359.55,117.54 360.07,117.83 360.59,117.49 361.12,115.66 361.65,115.43 362.18,115.17 362.72,114.95 363.26,113.54 363.81,112.87 364.36,112.39 364.91,112.32 365.47,111.94 366.03,110.87 366.6,110.27 367.17,109.75 367.75,109.13 368.33,108.67 368.91,107.66 369.5,107.7 370.09,107.82 370.69,106.51 371.29,106.45 371.9,105.1 372.51,105.33 373.12,104.91 373.74,104.28 374.36,103.56 374.98,103.01 375.61,102.74 376.24,102.6 376.88,101.07 377.51,100.51 378.15,100.94 378.79,100.7 379.44,99.67 380.09,99.09 380.74,99.01 381.39,97.8 382.04,97.46 382.7,96.91 383.36,96.99 384.02,96.16 384.68,95.6 385.35,95.8 386.01,95.72 386.68,94.36 387.35,94.5 388.02,93.65 388.69,93.83 389.37,93.03 390.04,92.15 390.72,91.65 391.4,90.96 392.07,91.17 392.75,90.61 393.43,89.89 394.11,89.74 394.79,89.26 395.48,89.48 396.16,88.18 396.84,88.95 397.52,87.81 398.21,87.57 398.89,86.97 399.57,87.07 400.26,86.63 400.94,85.85 401.63,85.33 402.31,85.25 403,85.02 403.68,83.97 404.36,84.02 405.05,83.92 405.73,82.81 406.41,82.06 407.09,81.65 407.77,81.91 408.45,81.43 409.13,81.4 409.81,80.83 410.49,79.55 411.17,79.05 411.84,78.72 412.52,78.19 413.19,78.48 413.86,78.27 414.54,77.89 415.2,76.55 415.87,76.96 416.54,75.75 417.2,75.45 417.86,75.43 418.52,74.08 419.18,73.63 419.83,74.2 420.48,72.98 421.13,72.59 421.77,72.43 422.4,72.08 423.03,70.65 423.66,70.61 424.28,70.24 424.89,69.8 425.5,68.89 426.1,68.89 426.69,68.87 427.27,67.53 427.85,67.19 428.42,66.03 428.97,65.67 429.52,65.64 430.06,64.27 430.58,64.75 431.09,64.17 431.59,62.41 432.08,62.96 432.56,61.52 433.02,61.42 433.47,60.74 433.9,59.42 434.32,59.27 434.72,58.55 435.11,58.06 435.48,56.59 435.84,56.56 436.17,56.13 436.5,54.99 436.8,54.06 437.09,52.72 437.3,52.7" fill="none" stroke="#ff0000" stroke-width="2" stroke-linejoin="round"/>
<text x="302.08" y="73.3" font-size="18.3" fill="#000">-100</text>
<rect x="309.06" y="71" width="3.4" height="3.1" fill="#fff"/>
<rect x="314.69" y="71" width="3.22" height="3.1" fill="#fff"/>
<text x="422.51" y="47.2" font-size="18.3" fill="#000">nA</text>
<text x="476.71" y="89.1" font-size="18.3" fill="#000">mV</text>
<text x="371.85" y="148.21" font-size="18.3" fill="#000">-0.1</text>
<rect x="394.1" y="145.91" width="3.4" height="3.1" fill="#fff"/>
<rect x="399.73" y="145.91" width="3.22" height="3.1" fill="#fff"/>
<text x="370.94" y="208.31" font-size="18.3" fill="#000">-0.2</text>
<line x1="316.3" y1="330.3" x2="465.4" y2="330.3" stroke="#000" stroke-width="2"/>
<line x1="415.3" y1="299.8" x2="415.3" y2="450.9" stroke="#000" stroke-width="2"/>
<line x1="317.3" y1="330.3" x2="317.3" y2="339.3" stroke="#000" stroke-width="2"/>
<line x1="366.2" y1="330.3" x2="366.2" y2="335.1" stroke="#000" stroke-width="2"/>
<line x1="464.4" y1="330.3" x2="464.4" y2="335.3" stroke="#000" stroke-width="2"/>
<line x1="410.3" y1="300.3" x2="416.3" y2="300.3" stroke="#000" stroke-width="2"/>
<line x1="410.3" y1="360.2" x2="416.3" y2="360.2" stroke="#000" stroke-width="2"/>
<line x1="406.3" y1="390.1" x2="416.3" y2="390.1" stroke="#000" stroke-width="2"/>
<line x1="410.3" y1="420" x2="416.3" y2="420" stroke="#000" stroke-width="2"/>
<line x1="406.3" y1="449.9" x2="416.3" y2="449.9" stroke="#000" stroke-width="2"/>
<polyline points="320.9,391.4 320.97,390.59 321.04,389.6 321.1,389.31 321.17,388.46 321.23,387.51 321.29,386.17 321.35,386.02 321.41,385.2 321.47,383.77 321.53,383.97 321.6,382.85 321.67,381.3 321.74,381.64 321.82,379.74 321.9,379.21 321.99,378.96 322.09,377.99 322.19,377.14 322.3,376.47 322.41,375.42 322.54,374.42 322.67,373.44 322.81,372.51 322.97,372.63 323.13,371.9 323.31,370.82 323.5,370.32 323.7,369.01 323.92,368.11 324.16,367.51 324.4,367.44 324.67,365.52 324.95,365.42 325.25,364.32 325.57,364.31 325.91,363.01 326.27,362.27 326.66,361.66 327.06,361.16 327.48,360.81 327.93,359.56 328.4,359.6 328.88,357.93 329.38,357.53 329.9,356.68 330.43,356.1 330.97,356.45 331.53,355.8 332.1,354.48 332.68,353.94 333.27,353.71 333.87,353.64 334.48,353.22 335.09,352.62 335.72,351.9 336.35,350.78 336.98,350.65 337.62,349.88 338.27,349.88 338.92,349.47 339.57,348.49 340.23,348.1 340.89,348.4 341.55,346.9 342.22,347.54 342.89,347.23 343.57,346.88 344.25,345.67 344.93,345.48 345.61,345.11 346.3,344.78 346.99,344.86 347.69,344.06 348.39,343.12 349.09,343.52 349.79,342.62 350.5,342.41 351.21,342.22 351.93,340.85 352.64,341.57 353.36,341.06 354.09,340.48 354.81,340.19 355.54,339.77 356.27,339.07 357,339.22 357.74,338.22 358.48,338.56 359.22,338.46 359.96,337.88 360.71,337.77 361.46,338.03 362.21,337.66 362.96,336.33 363.72,336.99 364.47,336.49 365.23,335.44 365.99,335.63 366.76,335.21 367.52,334.76 368.29,335.18 369.06,335.51 369.83,334.45 370.6,335 371.38,334.56 372.15,333.57 372.93,334.4 373.71,333.85 374.49,334.12 375.27,333.65 376.05,333.51 376.83,332.79 377.61,333.27 378.4,333.28 379.18,333.03 379.96,332.28 380.75,332.57 381.54,332.04 382.32,331.37 383.11,331.13 383.9,331.04 384.68,331.07 385.47,330.87 386.26,331.21 387.05,331.35 387.84,330.99 388.62,330.69 389.41,330.87 390.2,330.26 390.99,330.34 391.78,330.62 392.57,329.98 393.35,329.54 394.14,330.4 394.93,330.01 395.72,329.38 396.5,329.24 397.29,329.32 398.08,329.26 398.86,328.59 399.65,328.13 400.43,328.26 401.22,328.91 402,327.85 402.78,328.13 403.56,327.58 404.35,327.43 405.13,327.2 405.9,327.34 406.68,326.82 407.46,326.43 408.23,326.35 409.01,326.23 409.78,326.47 410.55,325.65 411.32,325.38 412.09,325.75 412.85,325.46 413.61,325.63 414.37,324.47 415.13,324.7 415.89,324.43 416.64,323.64 417.39,324.67 418.13,323.33 418.87,322.86 419.61,323.07 420.34,322.32 421.06,322.62 421.78,321.88 422.5,321.21 423.2,320.73 423.9,321.28 424.59,320.24 425.27,320.54 425.94,319.65 426.59,319.85 427.24,318.49 427.88,317.94 428.5,317.45 429.1,317.7 429.7,316.9 430.27,315.95 430.83,315.02 431.37,315.26 431.89,315.05 432.39,313.9 432.88,312.44 433.34,311.83 433.79,311.25 434.22,310.69 434.64,309.82 435.04,309.15 435.43,309.29 435.81,308.93 436.18,307.25 436.54,307.61 436.9,306.2 437.24,305.94 437.58,305.37 437.92,304.68 438.25,302.68 438.58,302.33 438.91,302.02 439.23,301.77 439.3,301" fill="none" stroke="#0014ff" stroke-width="2" stroke-linejoin="round"/>
<polyline points="320.9,420.2 320.89,418.82 320.88,418.31 320.88,418.29 320.89,416.46 320.9,416.05 320.92,415.17 320.95,414.85 320.99,414.4 321.03,412.55 321.09,412.54 321.15,411.74 321.22,411.08 321.29,409.89 321.38,409.61 321.47,408.03 321.57,407.31 321.69,406.26 321.81,406.24 321.94,405.03 322.08,403.95 322.23,403.02 322.39,403.01 322.56,402.07 322.74,401.44 322.93,400.21 323.14,399.57 323.35,398.34 323.58,398.35 323.82,396.62 324.07,396.48 324.33,396.14 324.61,395.27 324.9,393.71 325.2,393.17 325.51,393.28 325.84,392.27 326.18,391.88 326.53,391.15 326.9,389.85 327.27,389.76 327.66,388.84 328.06,387.58 328.47,386.95 328.89,385.85 329.32,385.63 329.76,385.74 330.21,383.89 330.67,383.89 331.14,382.6 331.62,381.92 332.11,382.08 332.6,380.88 333.11,379.99 333.62,379.52 334.14,379.61 334.68,378.92 335.21,377.53 335.76,377.25 336.31,377.7 336.87,376.08 337.43,375.99 338,375.23 338.58,375.19 339.16,374.39 339.75,374.11 340.34,373.21 340.94,372.2 341.54,371.66 342.15,371 342.76,371.53 343.38,370.02 344,369.39 344.62,370.2 345.25,368.63 345.88,369.11 346.51,367.49 347.15,367.54 347.79,366.72 348.43,367.09 349.07,366.31 349.72,365.88 350.36,365.58 351.01,365.26 351.67,364.06 352.32,363.96 352.97,363.28 353.63,362.36 354.29,362.92 354.95,362.13 355.61,361.98 356.27,360.68 356.93,360.69 357.59,360.14 358.26,360.06 358.92,358.7 359.58,358.63 360.24,358.38 360.91,357.35 361.57,357.58 362.23,357.39 362.9,356.5 363.56,356.37 364.22,355.86 364.88,354.86 365.54,354.6 366.2,355.05 366.86,353.67 367.52,353.35 368.18,352.41 368.83,352.14 369.49,351.61 370.15,352.23 370.8,351.48 371.46,351.24 372.12,350.94 372.78,349.96 373.44,349.95 374.1,348.95 374.76,348.33 375.42,348.62 376.08,348.11 376.75,347.73 377.41,346.64 378.08,346.6 378.75,345.65 379.42,346.04 380.09,345.5 380.77,344.19 381.45,344.66 382.13,343.19 382.81,342.65 383.49,343.11 384.18,342.11 384.87,342.02 385.56,341.78 386.26,340.55 386.96,341.15 387.66,340.11 388.36,339.95 389.07,339.45 389.78,339.64 390.5,339.29 391.22,338.29 391.94,337.69 392.66,337.63 393.39,337.45 394.12,336.66 394.85,336.44 395.59,336.99 396.33,336.59 397.07,336.67 397.81,336.38 398.56,335.94 399.3,334.94 400.05,334.35 400.79,334.28 401.54,334.2 402.28,334 403.03,333.73 403.77,333.19 404.52,333.58 405.26,332.49 406.01,332.45 406.75,332.74 407.49,332.32 408.22,331.29 408.96,330.9 409.69,331.37 410.42,329.92 411.14,329.76 411.86,329.97 412.58,329.62 413.29,328.74 414,328.2 414.7,328.04 415.4,328.43 416.09,327.6 416.77,327.91 417.45,327.21 418.12,327.05 418.79,325.28 419.44,325.03 420.09,324.32 420.73,324.43 421.37,323.81 422,322.92 422.61,323.1 423.22,321.95 423.82,321.73 424.42,321.1 425,321.33 425.57,320.23 426.14,319.44 426.69,318.56 427.23,318.52 427.77,318.2 428.29,317.66 428.81,317.38 429.32,316.62 429.82,315.21 430.31,314.42 430.79,314.65 431.26,314.05 431.73,313.01 432.19,312.81 432.64,311.76 433.09,310.71 433.53,309.89 433.97,309 434.4,309.21 434.82,308.88 435.24,308.22 435.66,306.92 436.07,306.51 436.47,306.19 436.88,305.34 437.28,304.35 437.67,303.39 438.07,302.84 438.46,301.65 438.85,300.97 439.23,300.97 439.3,300.6" fill="none" stroke="#ff0000" stroke-width="2" stroke-linejoin="round"/>
<text x="302.08" y="321.7" font-size="18.3" fill="#000">-100</text>
<rect x="309.06" y="319.4" width="3.4" height="3.1" fill="#fff"/>
<rect x="314.69" y="319.4" width="3.22" height="3.1" fill="#fff"/>
<text x="422.51" y="295.6" font-size="18.3" fill="#000">nA</text>
<text x="476.71" y="337.5" font-size="18.3" fill="#000">mV</text>
<text x="371.85" y="396.61" font-size="18.3" fill="#000">-0.1</text>
<rect x="394.1" y="394.31" width="3.4" height="3.1" fill="#fff"/>
<rect x="399.73" y="394.31" width="3.22" height="3.1" fill="#fff"/>
<text x="370.94" y="456.71" font-size="18.3" fill="#000">-0.2</text>
<line x1="316.3" y1="577.7" x2="465.4" y2="577.7" stroke="#000" stroke-width="2"/>
<line x1="415.3" y1="547.2" x2="415.3" y2="698.3" stroke="#000" stroke-width="2"/>
<line x1="317.3" y1="577.7" x2="317.3" y2="586.7" stroke="#000" stroke-width="2"/>
<line x1="366.2" y1="577.7" x2="366.2" y2="582.5" stroke="#000" stroke-width="2"/>
<line x1="464.4" y1="577.7" x2="464.4" y2="582.7" stroke="#000" stroke-width="2"/>
<line x1="410.3" y1="547.7" x2="416.3" y2="547.7" stroke="#000" stroke-width="2"/>
<line x1="410.3" y1="607.6" x2="416.3" y2="607.6" stroke="#000" stroke-width="2"/>
<line x1="406.3" y1="637.5" x2="416.3" y2="637.5" stroke="#000" stroke-width="2"/>
<line x1="410.3" y1="667.4" x2="416.3" y2="667.4" stroke="#000" stroke-width="2"/>
<line x1="406.3" y1="697.3" x2="416.3" y2="697.3" stroke="#000" stroke-width="2"/>
<polyline points="321.1,630.5 321.06,630.39 321.05,628.97 321.07,627.97 321.1,627.1 321.17,626.44 321.26,626.13 321.37,624.85 321.51,624.77 321.68,622.87 321.86,622.31 322.08,621.83 322.31,620.91 322.57,620.77 322.86,619.99 323.16,619.39 323.48,618.22 323.83,616.68 324.19,616.73 324.58,615.99 324.98,615.21 325.4,614.24 325.83,614.17 326.29,613.8 326.75,612.01 327.23,612.17 327.73,611.12 328.24,610.7 328.76,610.63 329.29,610.12 329.83,609.09 330.38,607.89 330.95,608.33 331.52,606.74 332.11,606.48 332.7,606.56 333.3,605.32 333.91,604.73 334.52,605.17 335.14,604.66 335.77,603.29 336.41,602.91 337.05,602.28 337.7,601.6 338.36,601.31 339.02,601.88 339.68,600.18 340.36,599.95 341.03,599.48 341.71,598.89 342.39,599.1 343.08,598.99 343.77,598.72 344.47,598.04 345.16,597.91 345.86,596.38 346.57,596.39 347.27,596.96 347.98,595.34 348.69,595.25 349.4,595.18 350.11,594.52 350.83,594.55 351.54,593.49 352.26,593.4 352.98,594.06 353.7,592.57 354.42,593.29 355.14,591.92 355.86,592.71 356.58,591.92 357.3,591.54 358.02,590.49 358.75,590.03 359.48,590.68 360.2,589.53 360.93,589.22 361.67,589.79 362.4,589.54 363.14,588.07 363.88,589.04 364.62,588.14 365.36,587.64 366.11,586.96 366.86,587.08 367.61,587.64 368.36,586.39 369.12,585.92 369.88,585.69 370.64,585.42 371.41,585.5 372.17,586.06 372.94,584.66 373.71,584.61 374.48,585.44 375.26,585.32 376.03,585.09 376.81,583.87 377.58,583.83 378.36,584.48 379.14,583.64 379.92,583.77 380.7,583.04 381.48,582.46 382.26,582.75 383.04,583.14 383.83,583.03 384.61,582.56 385.39,582.26 386.18,582.2 386.96,581.91 387.75,581.88 388.53,582.14 389.31,581.1 390.1,581.49 390.88,581.81 391.67,581.53 392.45,580.44 393.24,581.37 394.02,581.04 394.8,579.94 395.59,579.91 396.37,579.65 397.15,579.28 397.93,580.4 398.71,579.43 399.49,579.9 400.27,578.65 401.05,578.33 401.83,579.34 402.6,579.04 403.38,579.11 404.15,578.48 404.92,578.05 405.69,578.17 406.46,577 407.23,577.4 407.99,577.03 408.76,576.38 409.52,576.77 410.28,576.12 411.03,576.12 411.78,575.66 412.53,575.3 413.28,575.07 414.02,575.12 414.76,575.34 415.5,574.97 416.23,574.54 416.96,574.17 417.68,573.06 418.4,573.67 419.11,572.31 419.81,571.72 420.51,571.86 421.2,571.77 421.88,570.81 422.55,570.8 423.21,569.84 423.86,570.33 424.5,569.13 425.12,568.67 425.74,568.23 426.33,568.18 426.92,567.79 427.49,566.58 428.04,565.88 428.57,565.53 429.09,564.15 429.58,564.02 430.07,563.98 430.53,563.23 430.98,561.56 431.42,562 431.84,560.67 432.25,560.81 432.64,559.26 433.02,558.34 433.39,558.1 433.74,557.85 434.09,556.49 434.42,556.37 434.74,555.42 435.05,554.2 435.35,553.37 435.64,552.91 435.92,552.01 436.19,551.22 436.46,550.86 436.71,550.41 436.96,549.25 437.1,548.7" fill="none" stroke="#0014ff" stroke-width="2" stroke-linejoin="round"/>
<polyline points="321.1,637.3 321.03,636.01 320.98,635.31 320.95,634.73 320.95,634.27 320.97,632.8 321.01,631.92 321.08,631.46 321.17,630.61 321.29,629.47 321.44,629.39 321.61,629.15 321.8,627.83 322.03,627.35 322.27,626.71 322.54,625.97 322.84,625.33 323.16,623.94 323.5,623.56 323.87,622.06 324.26,622.42 324.67,621.03 325.1,620.5 325.55,620.42 326.02,618.93 326.52,618.16 327.02,618.43 327.55,617.51 328.09,616.2 328.65,615.55 329.22,615.44 329.81,614.42 330.41,615.05 331.02,613.63 331.65,613.25 332.29,612.93 332.93,612.63 333.58,612.05 334.24,611.88 334.91,611.48 335.59,610.74 336.27,609.84 336.95,610.66 337.64,609.85 338.33,608.6 339.03,608.7 339.72,608.75 340.42,608.7 341.13,607.02 341.83,606.56 342.54,606.84 343.24,606.38 343.95,606.67 344.65,606.19 345.36,605.13 346.07,604.87 346.77,604.73 347.48,604.78 348.19,603.45 348.9,603.34 349.61,602.55 350.31,602.95 351.02,601.72 351.74,602.63 352.45,601.68 353.16,601.39 353.87,600.34 354.59,600.19 355.3,600.16 356.02,600.35 356.74,599.55 357.45,598.84 358.17,599.47 358.89,598.67 359.61,598.14 360.34,597.34 361.06,597.13 361.79,597.64 362.51,596.23 363.24,596.46 363.97,596.25 364.7,595.56 365.44,595.82 366.17,595.7 366.91,595.31 367.64,594.83 368.38,593.78 369.12,593.27 369.87,593.5 370.61,593.03 371.35,592.58 372.1,593.24 372.85,592.04 373.6,592.6 374.35,592.48 375.1,591.06 375.85,591.9 376.6,590.9 377.35,590.37 378.11,590.07 378.86,589.59 379.62,589.97 380.37,589.55 381.13,589.94 381.88,589.65 382.64,588.31 383.4,588.53 384.15,588.25 384.91,587.69 385.66,587.53 386.42,587.29 387.18,587.63 387.93,586.88 388.69,586.29 389.44,586.18 390.2,586.23 390.95,586.14 391.71,585.42 392.46,585.79 393.21,584.84 393.97,585.21 394.72,584.85 395.47,583.96 396.22,584.49 396.97,583.71 397.71,583.62 398.46,583.42 399.21,583.17 399.95,582.61 400.69,581.77 401.43,582.49 402.17,582.29 402.91,581.46 403.64,581.27 404.38,580.51 405.11,581.07 405.83,580.44 406.56,579.45 407.28,579.94 408,579.82 408.71,578.57 409.43,579.11 410.13,578.02 410.84,577.21 411.53,577.58 412.23,576.65 412.92,576.79 413.6,576.17 414.28,575.08 414.95,575.23 415.61,575.24 416.27,574.26 416.92,573.88 417.57,573.86 418.21,572.8 418.84,572.37 419.46,572 420.08,571.83 420.69,570.44 421.3,569.76 421.89,570.16 422.48,569.33 423.06,568.43 423.64,568.7 424.21,568.13 424.77,567.07 425.32,567.12 425.86,566.32 426.4,565.61 426.93,564.37 427.45,563.37 427.96,563.69 428.47,563.15 428.97,561.98 429.46,561.53 429.94,561.02 430.41,559.93 430.88,559.9 431.34,559.06 431.79,558.15 432.23,557.1 432.66,557.04 433.09,556.04 433.5,555.92 433.91,554.46 434.31,554.08 434.7,553.1 435.08,552.7 435.45,552.22 435.82,550.85 436.17,550.06 436.52,549.94 436.85,548.82 437.1,548.7" fill="none" stroke="#ff0000" stroke-width="2" stroke-linejoin="round"/>
<text x="302.08" y="569.1" font-size="18.3" fill="#000">-100</text>
<rect x="309.06" y="566.8" width="3.4" height="3.1" fill="#fff"/>
<rect x="314.69" y="566.8" width="3.22" height="3.1" fill="#fff"/>
<text x="422.51" y="543" font-size="18.3" fill="#000">nA</text>
<text x="476.71" y="584.9" font-size="18.3" fill="#000">mV</text>
<text x="371.85" y="644.01" font-size="18.3" fill="#000">-0.1</text>
<rect x="394.1" y="641.71" width="3.4" height="3.1" fill="#fff"/>
<rect x="399.73" y="641.71" width="3.22" height="3.1" fill="#fff"/>
<text x="370.94" y="704.11" font-size="18.3" fill="#000">-0.2</text>
<rect x="587.7" y="51.6" width="40" height="42.4" fill="#0000ff"/>
<rect x="631.9" y="51.6" width="40.4" height="92.8" fill="#ff0000"/>
<line x1="607.4" y1="94" x2="607.4" y2="95.2" stroke="#0000ff" stroke-width="1.2"/>
<line x1="605.2" y1="95.2" x2="609.6" y2="95.2" stroke="#0000ff" stroke-width="1.4"/>
<line x1="651.9" y1="144.4" x2="651.9" y2="152.4" stroke="#ff0000" stroke-width="1.2"/>
<line x1="649.6" y1="152.4" x2="654.4" y2="152.4" stroke="#ff0000" stroke-width="1.6"/>
<line x1="583" y1="50.5" x2="583" y2="179.7" stroke="#000" stroke-width="2"/>
<line x1="574" y1="51.3" x2="583" y2="51.3" stroke="#000" stroke-width="2"/>
<line x1="578" y1="83.1" x2="583" y2="83.1" stroke="#000" stroke-width="2"/>
<line x1="574" y1="114.9" x2="583" y2="114.9" stroke="#000" stroke-width="2"/>
<line x1="578" y1="146.9" x2="583" y2="146.9" stroke="#000" stroke-width="2"/>
<line x1="574" y1="178.9" x2="583" y2="178.9" stroke="#000" stroke-width="2"/>
<text x="544.7" y="57.61" font-size="18.3" fill="#000">0.0</text>
<text x="538.76" y="121.12" font-size="18.3" fill="#000">-1.5</text>
<rect x="545.74" y="118.82" width="3.4" height="3.1" fill="#fff"/>
<rect x="551.37" y="118.82" width="3.22" height="3.1" fill="#fff"/>
<text x="538.66" y="185.21" font-size="18.3" fill="#000">-3.0</text>
<line x1="608.3" y1="160.4" x2="651.9" y2="160.4" stroke="#000" stroke-width="1.5"/>
<polygon points="623.3,165.9 624.15,167.93 626.34,168.11 624.68,169.55 625.18,171.69 623.3,170.55 621.42,171.69 621.92,169.55 620.26,168.11 622.45,167.93" fill="#000"/>
<polygon points="630.2,165.9 631.05,167.93 633.24,168.11 631.58,169.55 632.08,171.69 630.2,170.55 628.32,171.69 628.82,169.55 627.16,168.11 629.35,167.93" fill="#000"/>
<polygon points="637.2,165.9 638.05,167.93 640.24,168.11 638.58,169.55 639.08,171.69 637.2,170.55 635.32,171.69 635.82,169.55 634.16,168.11 636.35,167.93" fill="#000"/>
<text transform="translate(530.27,181.5) rotate(-90) scale(0.98,1)" font-size="18.3">Current (I/Imax)</text>
<rect x="587.7" y="300.1" width="40" height="61.5" fill="#0000ff"/>
<rect x="631.9" y="300.1" width="40.4" height="82.3" fill="#ff0000"/>
<line x1="607.4" y1="361.6" x2="607.4" y2="363.3" stroke="#0000ff" stroke-width="1.2"/>
<line x1="605.2" y1="363.3" x2="609.6" y2="363.3" stroke="#0000ff" stroke-width="1.4"/>
<line x1="651.9" y1="382.4" x2="651.9" y2="389.6" stroke="#ff0000" stroke-width="1.2"/>
<line x1="649.6" y1="389.6" x2="654.4" y2="389.6" stroke="#ff0000" stroke-width="1.6"/>
<line x1="583" y1="299" x2="583" y2="427.4" stroke="#000" stroke-width="2"/>
<line x1="574" y1="299.8" x2="583" y2="299.8" stroke="#000" stroke-width="2"/>
<line x1="578" y1="331.5" x2="583" y2="331.5" stroke="#000" stroke-width="2"/>
<line x1="574" y1="363.2" x2="583" y2="363.2" stroke="#000" stroke-width="2"/>
<line x1="578" y1="394.9" x2="583" y2="394.9" stroke="#000" stroke-width="2"/>
<line x1="574" y1="426.6" x2="583" y2="426.6" stroke="#000" stroke-width="2"/>
<text x="544.7" y="306.11" font-size="18.3" fill="#000">0.0</text>
<text x="538.66" y="369.51" font-size="18.3" fill="#000">-1.0</text>
<rect x="545.65" y="367.21" width="3.4" height="3.1" fill="#fff"/>
<rect x="551.28" y="367.21" width="3.22" height="3.1" fill="#fff"/>
<text x="538.66" y="432.91" font-size="18.3" fill="#000">-2.0</text>
<line x1="608.3" y1="396.7" x2="651.9" y2="396.7" stroke="#000" stroke-width="1.5"/>
<polygon points="626,402.7 626.85,404.73 629.04,404.91 627.38,406.35 627.88,408.49 626,407.35 624.12,408.49 624.62,406.35 622.96,404.91 625.15,404.73" fill="#000"/>
<polygon points="632.9,402.7 633.75,404.73 635.94,404.91 634.28,406.35 634.78,408.49 632.9,407.35 631.02,408.49 631.52,406.35 629.86,404.91 632.05,404.73" fill="#000"/>
<text transform="translate(530.27,428.9) rotate(-90) scale(0.98,1)" font-size="18.3">Current (I/Imax)</text>
<rect x="587.7" y="548.1" width="40" height="61.7" fill="#0000ff"/>
<rect x="631.9" y="548.1" width="40.4" height="63.9" fill="#ff0000"/>
<line x1="607.4" y1="609.8" x2="607.4" y2="611" stroke="#0000ff" stroke-width="1.2"/>
<line x1="605.2" y1="611" x2="609.6" y2="611" stroke="#0000ff" stroke-width="1.4"/>
<line x1="651.9" y1="612" x2="651.9" y2="616.4" stroke="#ff0000" stroke-width="1.2"/>
<line x1="649.6" y1="616.4" x2="654.4" y2="616.4" stroke="#ff0000" stroke-width="1.6"/>
<line x1="583" y1="547" x2="583" y2="676.3" stroke="#000" stroke-width="2"/>
<line x1="574" y1="547.8" x2="583" y2="547.8" stroke="#000" stroke-width="2"/>
<line x1="578" y1="579.8" x2="583" y2="579.8" stroke="#000" stroke-width="2"/>
<line x1="574" y1="611.8" x2="583" y2="611.8" stroke="#000" stroke-width="2"/>
<line x1="578" y1="643.5" x2="583" y2="643.5" stroke="#000" stroke-width="2"/>
<line x1="574" y1="675.5" x2="583" y2="675.5" stroke="#000" stroke-width="2"/>
<text x="544.7" y="554.11" font-size="18.3" fill="#000">0.0</text>
<text x="538.66" y="618.11" font-size="18.3" fill="#000">-1.0</text>
<rect x="545.65" y="615.81" width="3.4" height="3.1" fill="#fff"/>
<rect x="551.28" y="615.81" width="3.22" height="3.1" fill="#fff"/>
<text x="538.66" y="681.81" font-size="18.3" fill="#000">-2.0</text>
<line x1="609.3" y1="624.7" x2="652.7" y2="624.7" stroke="#000" stroke-width="1.5"/>
<text transform="translate(620.16,638.2) scale(1,1)" font-size="12.8" stroke="#000" stroke-width="0.45">n.s.</text>
<text transform="translate(530.27,676.91) rotate(-90) scale(0.99,1)" font-size="18.3">Current (I/Imax)</text>
</svg></body></html>
